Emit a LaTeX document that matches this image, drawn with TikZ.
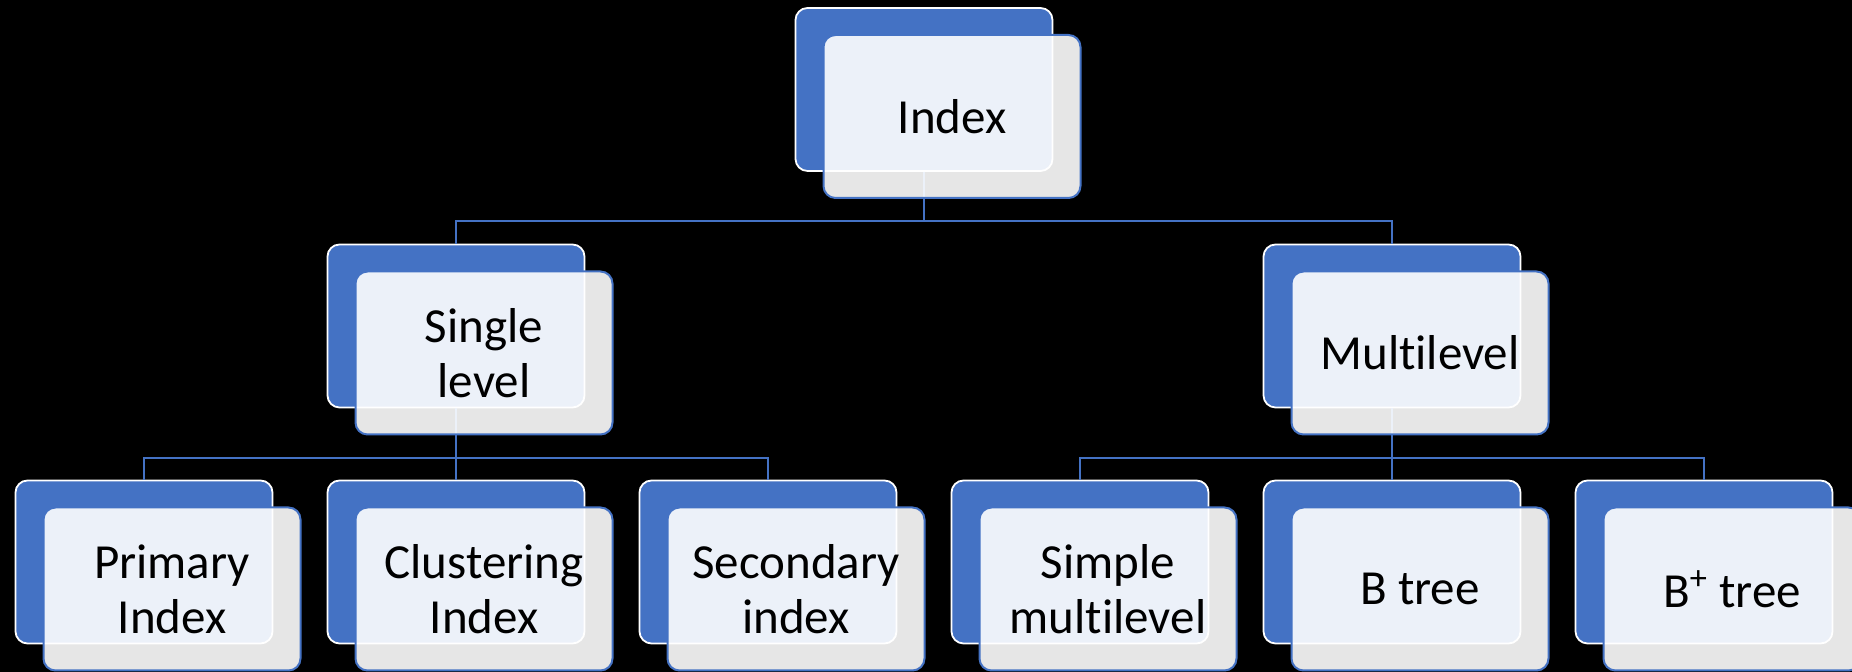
\documentclass[tikz,border=0pt]{standalone}
\usepackage{fontspec}
\setmainfont{Carlito}[Ligatures=NoCommon]
\usepackage{tikz}
\usetikzlibrary{positioning}

\definecolor{chartblue}{HTML}{4472C4}

\tikzset{
  backbox/.style={draw=white, line width=0.9pt, fill=chartblue, rounded corners=6pt,
    minimum width=128.5pt, minimum height=81.5pt, inner sep=0pt},
  frontbox/.style={draw=chartblue, line width=1pt, fill=white, fill opacity=0.9,
    text opacity=1, rounded corners=6pt, minimum width=128.5pt, minimum height=81.5pt,
    inner sep=0pt, align=center, font=\fontsize{24.5}{27.5}\selectfont},
  link/.style={draw=chartblue, line width=1pt}
}

\begin{document}
\begin{tikzpicture}[x=0.5pt, y=0.5pt]
  \fill[black] (0,0) rectangle (1852,672);
  \useasboundingbox (0,0) rectangle (1852,672);

  % back boxes, bottom row
  \node[backbox] (primary) at (144,110) {};
  \node[backbox, right=26.6pt of primary] (cluster) {};
  \node[backbox, right=26.6pt of cluster] (second) {};
  \node[backbox, right=26.6pt of second] (simple) {};
  \node[backbox, right=26.6pt of simple] (btree) {};
  \node[backbox, right=26.6pt of btree] (bplus) {};

  % back boxes, upper rows
  \node[backbox, above=35.6pt of cluster] (single) {};
  \node[backbox, above=35.6pt of btree] (multi) {};
  \node[backbox] (index) at (924,582.5) {};

  % connectors
  \coordinate (j1) at (924,451);
  \coordinate (j2) at (456,214);
  \coordinate (j3) at (1392,214);
  \draw[link] (index) -- (j1) -| (single);
  \draw[link] (j1) -| (multi);
  \draw[link] (single) -- (j2) -| (primary);
  \draw[link] (j2) -- (cluster);
  \draw[link] (j2) -| (second);
  \draw[link] (multi) -- (j3) -| (simple);
  \draw[link] (j3) -- (btree);
  \draw[link] (j3) -| (bplus);

  % front boxes with the labels
  \node[frontbox] (indexf) at ([shift={(28,-27)}]index) {Index};
  \node[frontbox] (singlef) at ([shift={(28,-27)}]single) {Single\\level};
  \node[frontbox] (multif) at ([shift={(28,-27)}]multi) {Multilevel};
  \node[frontbox] (primaryf) at ([shift={(28,-27)}]primary) {Primary\\Index};
  \node[frontbox] (clusterf) at ([shift={(28,-27)}]cluster) {Clustering\\Index};
  \node[frontbox] (secondf) at ([shift={(28,-27)}]second) {Secondary\\index};
  \node[frontbox] (simplef) at ([shift={(28,-27)}]simple) {Simple\\multilevel};
  \node[frontbox] (btreef) at ([shift={(28,-27)}]btree) {B tree};
  \node[frontbox] (bplusf) at ([shift={(28,-27)}]bplus) {B\textsuperscript{+} tree};
\end{tikzpicture}
\end{document}
